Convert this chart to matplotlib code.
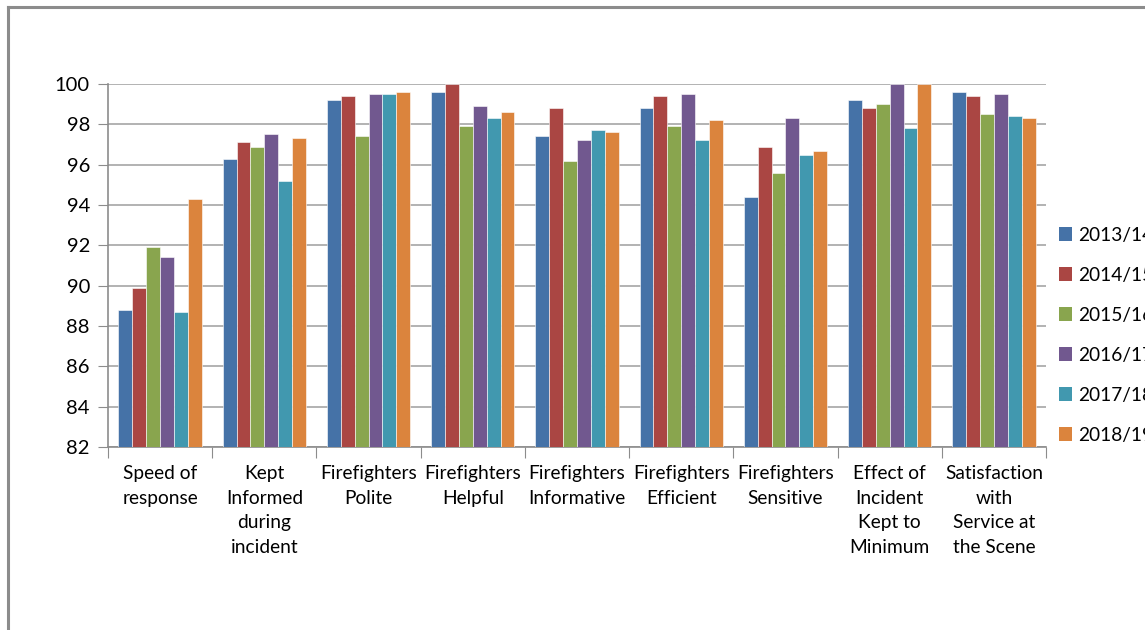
import numpy as np
import matplotlib
matplotlib.use("Agg")
import matplotlib.pyplot as plt
from matplotlib.lines import Line2D
from matplotlib.patches import Patch

# Data
categories = ["Speed of\nresponse", "Kept\nInformed\nduring\nincident",
              "Firefighters\nPolite", "Firefighters\nHelpful",
              "Firefighters\nInformative", "Firefighters\nEfficient",
              "Firefighters\nSensitive", "Effect of\nIncident\nKept to\nMinimum",
              "Satisfaction\nwith\nService at\nthe Scene"]
years = ["2013/14", "2014/15", "2015/16", "2016/17", "2017/18", "2018/19"]

v2013 = [88.8, 96.3, 99.2, 99.6, 97.4, 98.8, 94.4, 99.2, 99.6]
v2014 = [89.9, 97.1, 99.4, 100.0, 98.8, 99.4, 96.9, 98.8, 99.4]
v2015 = [91.9, 96.9, 97.4, 97.9, 96.2, 97.9, 95.6, 99.0, 98.5]
v2016 = [91.4, 97.5, 99.5, 98.9, 97.2, 99.5, 98.3, 100.0, 99.5]
v2017 = [88.7, 95.2, 99.5, 98.3, 97.7, 97.2, 96.5, 97.8, 98.4]
v2018 = [94.3, 97.3, 99.6, 98.6, 97.6, 98.2, 96.7, 100.0, 98.3]
series = [v2013, v2014, v2015, v2016, v2017, v2018]

colors = ["#4572A7", "#AA4643", "#89A54E", "#71588F", "#4198AF", "#DB843D"]

plt.rcParams['font.family'] = ['Lato', 'DejaVu Sans']

fig = plt.figure(figsize=(11.45, 6.3), dpi=100)
ax = fig.add_axes([108/1145, 1-447/630, 938/1145, 363/630])

# outer chart frame (cut off at right and bottom)
W, H = 1145., 630.
fig.add_artist(Line2D([8/W, 1.02], [1-7/H, 1-7/H], color="#8c8c8c", lw=2.2,
                      transform=fig.transFigure))
fig.add_artist(Line2D([8/W, 8/W], [1-7/H, -0.02], color="#8c8c8c", lw=2.2,
                      transform=fig.transFigure))

x = np.arange(len(categories))
bw = 0.8 / len(series)
for i, vals in enumerate(series):
    ax.bar(x - 0.4 + bw*(i+0.5), np.array(vals) - 82, bottom=82, width=bw,
           color=colors[i], edgecolor="#ffffff", linewidth=0.4, zorder=3)

ax.set_ylim(82, 100)
ax.set_xlim(-0.5, len(categories) - 0.5)
ax.set_yticks(np.arange(82, 101, 2))
ax.tick_params(axis='y', labelsize=14.5, length=7, pad=6, colors="#000000")
ax.tick_params(axis='y', color="#8c8c8c")
ax.yaxis.grid(True, color="#a6a6a6", lw=1.2, zorder=0)
ax.set_axisbelow(True)

ax.set_xticks(np.arange(-0.5, len(categories), 1))
ax.set_xticklabels([])
ax.tick_params(axis='x', which='major', length=8, color="#8c8c8c")
ax.set_xticks(x, minor=True)
ax.set_xticklabels(categories, minor=True, fontsize=13.8, linespacing=1.55, va='top')
ax.tick_params(axis='x', which='minor', length=0, pad=13)

for s in ["top", "right"]:
    ax.spines[s].set_visible(False)
for s in ["left", "bottom"]:
    ax.spines[s].set_color("#8c8c8c")
    ax.spines[s].set_linewidth(1.2)

handles = [Patch(facecolor=c, edgecolor="none") for c in colors]
fig.legend(handles, years, loc='center left', bbox_to_anchor=(1059/W, 1-335/H),
           frameon=False, fontsize=13.8, handlelength=0.7, handleheight=0.7,
           handletextpad=0.3, labelspacing=1.2, borderpad=0, borderaxespad=0)

fig.savefig("out.png", dpi=100)
